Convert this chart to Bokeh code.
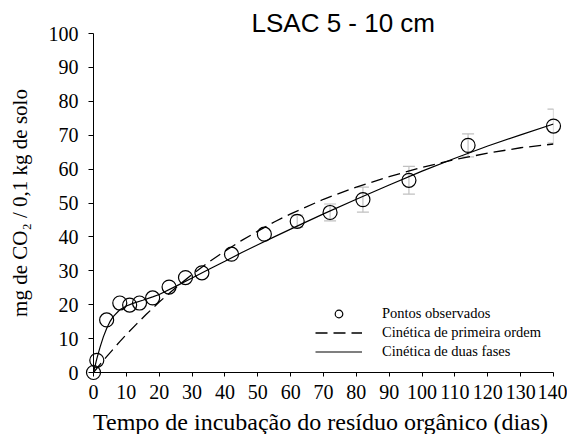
from bokeh.plotting import figure
from bokeh.models import (Range1d, ColumnDataSource, Whisker, Legend, LegendItem,
                          FixedTicker, TeeHead)
from bokeh.core.properties import value
from bokeh.embed import file_html
from bokeh.resources import INLINE

# observed points
t_obs = [0, 1, 4, 8, 11, 14, 18, 23, 28, 33, 42, 52, 62, 72, 82, 96, 114, 140]
co2_obs = [0, 3.6, 15.5, 20.5, 19.9, 20.5, 22.0, 25.2, 28.0, 29.4, 34.9, 40.8,
           44.6, 47.2, 51.0, 56.7, 67.0, 72.7]
co2_err = [0, 0, 0, 0, 0, 0, 0, 0, 0, 0, 0, 0, 1.8, 2.5, 3.7, 4.1, 3.4, 5.0]

# first-order kinetics curve
t_first = [0, 2, 4, 6, 8, 10, 13, 16, 20, 25, 30, 35, 40, 45, 50, 55, 60, 70,
           80, 90, 100, 110, 120, 130, 140]
co2_first = [0, 2.4, 4.7, 6.9, 9.1, 11.2, 14.2, 17.1, 20.8, 25.0, 28.9, 32.5,
             35.8, 38.9, 41.7, 44.4, 46.8, 51.1, 54.7, 57.8, 60.5, 62.8, 64.7,
             66.3, 67.4]

# two-phase kinetics curve
t_two = [0, 1, 2, 3, 4, 5, 6, 8, 10, 12, 15, 18, 20, 25, 30, 35, 40, 45, 50,
         55, 60, 70, 80, 90, 100, 110, 120, 130, 140]
co2_two = [0, 4.0, 7.5, 10.5, 13.0, 15.0, 16.5, 18.5, 19.6, 20.4, 21.3, 22.3,
           23.0, 25.4, 27.9, 30.4, 32.8, 35.3, 37.7, 40.0, 42.3, 46.8, 51.1,
           55.3, 59.4, 63.2, 66.8, 70.1, 73.3]

x_ticks = list(range(0, 141, 10))
y_ticks = list(range(0, 101, 10))

title_text = "LSAC 5 - 10 cm"
x_label = "Tempo de incubação do resíduo orgânico (dias)"
y_label = "mg de CO₂ / 0,1 kg de solo"
legend_labels = ["Pontos observados", "Cinética de primeira ordem",
                 "Cinética de duas fases"]

SERIF = "Liberation Serif"

p = figure(width=567, height=434, output_backend="svg", toolbar_location=None,
           x_range=Range1d(0, 140), y_range=Range1d(0, 100),
           min_border_left=93, min_border_right=14, min_border_top=33,
           min_border_bottom=62)
p.outline_line_color = None
p.grid.visible = False
p.background_fill_color = "white"
p.border_fill_color = "white"

for ax, ticks in ((p.xaxis, x_ticks), (p.yaxis, y_ticks)):
    ax.ticker = FixedTicker(ticks=ticks)
    ax.major_label_text_font = SERIF
    ax.major_label_text_font_size = "20px"
    ax.major_label_text_color = "black"
    ax.axis_line_color = "black"
    ax.major_tick_line_color = "black"
    ax.minor_tick_line_color = None
    ax.major_tick_in = 0
    ax.axis_label_text_font = SERIF
    ax.axis_label_text_font_style = "normal"
    ax.axis_label_text_color = "black"

p.xaxis.major_tick_out = 4
p.yaxis.major_tick_out = 5
p.xaxis.major_label_standoff = 8
p.yaxis.major_label_standoff = 10
p.yaxis.axis_label = y_label
p.yaxis.axis_label_text_font_size = "21px"
p.yaxis.axis_label_standoff = 14

# title
p.title.text = title_text
p.title.text_font = "Liberation Sans"
p.title.text_font_size = "26px"
p.title.text_font_style = "normal"
p.title.text_color = "black"
p.title.align = "left"
p.title.offset = 158
p.title.standoff = -8

# x axis label, drawn as an unclipped text glyph so it can reach the bottom edge
xsrc = ColumnDataSource(dict(x=[69.1], y=[-14.6], text=[x_label]))
p.text(x="x", y="y", text="text", source=xsrc, text_font=value(SERIF),
       text_font_size="24px", text_align="center",
       text_baseline="middle", text_color="black", level="overlay")

# error bars
ex = [t for t, e in zip(t_obs, co2_err) if e > 0]
eu = [v + e for v, e in zip(co2_obs, co2_err) if e > 0]
el = [v - e for v, e in zip(co2_obs, co2_err) if e > 0]
esrc = ColumnDataSource(dict(x=ex, upper=eu, lower=el))
grey = "#c0c0c0"
w = Whisker(base="x", upper="upper", lower="lower", source=esrc,
            line_color=grey, line_width=1.2,
            upper_head=TeeHead(size=12, line_color=grey, line_width=1.2),
            lower_head=TeeHead(size=12, line_color=grey, line_width=1.2))
p.add_layout(w)

r_first = p.line(t_first, co2_first, line_color="black", line_width=1.3,
                 line_dash="12 6")
r_two = p.line(t_two, co2_two, line_color="black", line_width=1.2)
r_obs = p.scatter(t_obs, co2_obs, marker="circle", size=14, fill_color=None,
                  line_color="black", line_width=1.2, level="overlay")

legend = Legend(items=[LegendItem(label=legend_labels[0], renderers=[r_obs]),
                       LegendItem(label=legend_labels[1], renderers=[r_first]),
                       LegendItem(label=legend_labels[2], renderers=[r_two])],
                location=(222, 11), padding=0, margin=0, spacing=0,
                glyph_width=47, glyph_height=19, label_standoff=20,
                label_text_font=SERIF, label_text_font_size="14.5px",
                label_text_color="black", label_height=19,
                border_line_color=None, background_fill_alpha=0)
p.add_layout(legend)

open("out.html", "w").write(file_html(p, INLINE))
